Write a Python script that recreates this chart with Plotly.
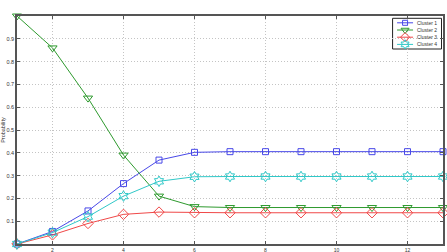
import plotly.graph_objects as go

iterations = list(range(1, 14))
cluster1 = [0.0, 0.055, 0.145, 0.265, 0.368, 0.402, 0.405, 0.405, 0.405, 0.405, 0.405, 0.405, 0.405]
cluster2 = [1.0, 0.86, 0.64, 0.39, 0.21, 0.164, 0.16, 0.16, 0.16, 0.16, 0.16, 0.16, 0.16]
cluster3 = [0.0, 0.04, 0.09, 0.13, 0.14, 0.137, 0.137, 0.137, 0.137, 0.137, 0.137, 0.137, 0.137]
cluster4 = [0.0, 0.05, 0.12, 0.21, 0.275, 0.295, 0.296, 0.296, 0.296, 0.296, 0.296, 0.296, 0.296]
names = ["Cluster 1", "Cluster 2", "Cluster 3", "Cluster 4"]
x_ticks = [2, 4, 6, 8, 10, 12]
y_ticks = [0.1, 0.2, 0.3, 0.4, 0.5, 0.6, 0.7, 0.8, 0.9]

FONT = "Liberation Sans"
styles = [
    ("#4848e8", "square-open", 6),
    ("#2e9a2e", "triangle-down-open", 8),
    ("#f04848", "diamond-open", 8),
    ("#30c8c8", "hexagram-open", 8),
]

fig = go.Figure()
for name, ys, (col, sym, ms) in zip(names, [cluster1, cluster2, cluster3, cluster4], styles):
    fig.add_trace(go.Scatter(
        x=iterations, y=ys, name=name, mode="lines+markers", showlegend=False,
        cliponaxis=False,
        line=dict(color=col, width=1),
        marker=dict(symbol=sym, size=ms, color=col, line=dict(color=col, width=1)),
    ))

# custom compact legend drawn on an overlay axis measured in pixels
L, R, T, B = 16.5, 443.3, 16, 244
box = dict(x0=392.8, x1=441.8, y0=18.3, y1=49.0)
row_y = [22.8, 30.0, 37.2, 44.4]
for name, (col, sym, ms), ry in zip(names, styles, row_y):
    fig.add_trace(go.Scatter(
        x=[397.3, 405.3, 413.3], y=[ry, ry, ry], mode="lines", xaxis="x2", yaxis="y2",
        showlegend=False, hoverinfo="skip", cliponaxis=False,
        line=dict(color=col, width=1),
    ))
    fig.add_trace(go.Scatter(
        x=[405.3], y=[ry], mode="markers", xaxis="x2", yaxis="y2",
        showlegend=False, hoverinfo="skip", cliponaxis=False,
        marker=dict(symbol=sym, size=ms - 1, color=col, line=dict(color=col, width=1)),
    ))
    fig.add_annotation(x=416.0, y=ry, xref="x2", yref="y2", text=name, showarrow=False,
                       xanchor="left", yanchor="middle", borderpad=0,
                       font=dict(size=5, color="#333333", family=FONT))

axis_common = dict(
    showline=True, linecolor="#555555", linewidth=1.5, mirror="ticks",
    ticks="inside", ticklen=3, tickcolor="#555555",
    showgrid=True, gridcolor="#c4c4c4", griddash="1px,2px", gridwidth=1,
    zeroline=False, automargin=False,
)

fig.update_layout(
    width=447, height=252,
    margin=dict(l=L, r=447 - R, t=T, b=252 - B),
    plot_bgcolor="white", paper_bgcolor="white",
    xaxis=dict(range=[1, 13], tickvals=x_ticks, **axis_common,
               tickfont=dict(size=5, color="#333333", family=FONT)),
    yaxis=dict(range=[0, 1], tickvals=y_ticks, **axis_common,
               tickfont=dict(size=5.5, color="#333333", family=FONT),
               title=dict(text="Probability", font=dict(size=5.5, color="#333333", family=FONT), standoff=4)),
    xaxis2=dict(range=[L, R], overlaying="x", visible=False, anchor="y2"),
    yaxis2=dict(range=[B, T], overlaying="y", visible=False, anchor="x2"),
    shapes=[dict(type="rect", xref="x2", yref="y2", x0=box["x0"], x1=box["x1"],
                 y0=box["y0"], y1=box["y1"], line=dict(color="#222222", width=1),
                 fillcolor="white", layer="below")],
    showlegend=False,
)

fig.write_html("out.html")
